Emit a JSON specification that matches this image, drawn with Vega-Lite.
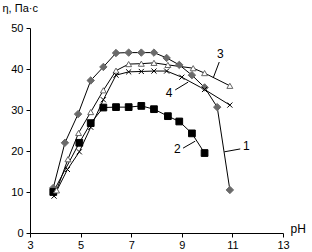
{
  "$schema": "https://vega.github.io/schema/vega-lite/v6.json",
  "autosize": "none",
  "width": 253,
  "height": 205,
  "padding": {"left": 30, "top": 28, "right": 29, "bottom": 19},
  "background": "white",
  "config": {
    "view": {"stroke": null},
    "font": "Liberation Sans",
    "axis": {"grid": false, "domainColor": "black", "tickColor": "black", "labelColor": "black", "titleColor": "black", "labelFont": "Liberation Sans", "titleFont": "Liberation Sans", "labelFontSize": 11, "titleFontSize": 11, "titleFontWeight": "normal", "tickSize": 4, "domainWidth": 1, "tickWidth": 1}
  },
  "datasets": {
    "series": [
      {"s": "1", "pH": 3.92, "eta": 11}, {"s": "1", "pH": 4.38, "eta": 22}, {"s": "1", "pH": 4.9, "eta": 29}, {"s": "1", "pH": 5.4, "eta": 37.2}, {"s": "1", "pH": 5.9, "eta": 40.5}, {"s": "1", "pH": 6.4, "eta": 43.9}, {"s": "1", "pH": 6.9, "eta": 44}, {"s": "1", "pH": 7.4, "eta": 44}, {"s": "1", "pH": 7.9, "eta": 44}, {"s": "1", "pH": 8.4, "eta": 42.7}, {"s": "1", "pH": 8.9, "eta": 41}, {"s": "1", "pH": 9.4, "eta": 38.5}, {"s": "1", "pH": 9.9, "eta": 35.5}, {"s": "1", "pH": 10.4, "eta": 30.7}, {"s": "1", "pH": 10.9, "eta": 10.5},
      {"s": "2", "pH": 3.92, "eta": 10}, {"s": "2", "pH": 4.95, "eta": 22}, {"s": "2", "pH": 5.4, "eta": 26.8}, {"s": "2", "pH": 5.9, "eta": 30.6}, {"s": "2", "pH": 6.4, "eta": 30.7}, {"s": "2", "pH": 6.9, "eta": 30.7}, {"s": "2", "pH": 7.4, "eta": 31}, {"s": "2", "pH": 7.9, "eta": 30.2}, {"s": "2", "pH": 8.45, "eta": 28.5}, {"s": "2", "pH": 8.9, "eta": 27.2}, {"s": "2", "pH": 9.4, "eta": 24.3}, {"s": "2", "pH": 9.9, "eta": 19.5},
      {"s": "3", "pH": 4.05, "eta": 10.4}, {"s": "3", "pH": 4.5, "eta": 18}, {"s": "3", "pH": 4.92, "eta": 24.4}, {"s": "3", "pH": 5.4, "eta": 29.5}, {"s": "3", "pH": 5.9, "eta": 34.8}, {"s": "3", "pH": 6.4, "eta": 39.6}, {"s": "3", "pH": 6.9, "eta": 41.2}, {"s": "3", "pH": 7.4, "eta": 41.3}, {"s": "3", "pH": 7.9, "eta": 41.5}, {"s": "3", "pH": 8.45, "eta": 41}, {"s": "3", "pH": 9.45, "eta": 40.2}, {"s": "3", "pH": 9.9, "eta": 39}, {"s": "3", "pH": 10.9, "eta": 35.9},
      {"s": "4", "pH": 3.95, "eta": 9}, {"s": "4", "pH": 4.48, "eta": 15.5}, {"s": "4", "pH": 4.95, "eta": 19.8}, {"s": "4", "pH": 5.4, "eta": 25.8}, {"s": "4", "pH": 5.9, "eta": 32.5}, {"s": "4", "pH": 6.4, "eta": 38.5}, {"s": "4", "pH": 6.9, "eta": 39.3}, {"s": "4", "pH": 7.4, "eta": 39.4}, {"s": "4", "pH": 7.9, "eta": 39.5}, {"s": "4", "pH": 8.4, "eta": 39.5}, {"s": "4", "pH": 9.0, "eta": 38}, {"s": "4", "pH": 9.9, "eta": 35}, {"s": "4", "pH": 10.9, "eta": 31.2}
    ],
    "leaders": [
      {"x": 10.68, "y": 19.8, "x2": 11.31, "y2": 20.5},
      {"x": 9.05, "y": 20.7, "x2": 9.53, "y2": 22.4},
      {"x": 10.48, "y": 41.7, "x2": 10.24, "y2": 37.8},
      {"x": 8.74, "y": 34.9, "x2": 9.25, "y2": 36.8}
    ],
    "labels": [
      {"t": "1", "x": 11.55, "y": 21.2},
      {"t": "2", "x": 8.82, "y": 20.5},
      {"t": "3", "x": 10.52, "y": 43.7},
      {"t": "4", "x": 8.5, "y": 34.1}
    ]
  },
  "layer": [
    {
      "data": {"name": "series"},
      "mark": {"type": "line", "color": "black", "strokeWidth": 1},
      "encoding": {
        "x": {"field": "pH", "type": "quantitative", "scale": {"domain": [3, 13], "nice": false}, "axis": {"values": [3, 5, 7, 9, 11, 13], "title": "pH", "titleFontSize": 12, "titleAnchor": "start", "titleAlign": "left", "titleX": 260, "titleY": 2, "titleBaseline": "bottom", "labelFlush": false}},
        "y": {"field": "eta", "type": "quantitative", "scale": {"domain": [0, 50], "nice": false}, "axis": {"values": [0, 10, 20, 30, 40, 50], "title": "η, Па·с", "titleAngle": 0, "titleAlign": "left", "titleBaseline": "middle", "titleX": -28, "titleY": -20, "labelPadding": 3}},
        "detail": {"field": "s"}
      }
    },
    {
      "data": {"name": "series"},
      "mark": {"type": "point", "filled": false, "opacity": 1, "strokeWidth": 1},
      "encoding": {
        "x": {"field": "pH", "type": "quantitative"},
        "y": {"field": "eta", "type": "quantitative"},
        "shape": {"field": "s", "type": "nominal", "legend": null, "scale": {"domain": ["1", "2", "3", "4"], "range": ["diamond", "square", "triangle-up", "M-1,-1L1,1M-1,1L1,-1"]}},
        "fill": {"field": "s", "type": "nominal", "legend": null, "scale": {"domain": ["1", "2", "3", "4"], "range": ["#6a6a6a", "black", "white", "transparent"]}},
        "stroke": {"field": "s", "type": "nominal", "legend": null, "scale": {"domain": ["1", "2", "3", "4"], "range": ["#6a6a6a", "black", "#666666", "black"]}},
        "size": {"field": "s", "type": "nominal", "legend": null, "scale": {"domain": ["1", "2", "3", "4"], "range": [55, 26, 64, 36]}}
      }
    },
    {
      "data": {"name": "leaders"},
      "mark": {"type": "rule", "color": "black", "strokeWidth": 1},
      "encoding": {
        "x": {"field": "x", "type": "quantitative"},
        "y": {"field": "y", "type": "quantitative"},
        "x2": {"field": "x2"},
        "y2": {"field": "y2"}
      }
    },
    {
      "data": {"name": "labels"},
      "mark": {"type": "text", "fontSize": 12, "font": "Liberation Sans", "color": "black", "align": "center", "baseline": "middle"},
      "encoding": {
        "x": {"field": "x", "type": "quantitative"},
        "y": {"field": "y", "type": "quantitative"},
        "text": {"field": "t"}
      }
    }
  ]
}
